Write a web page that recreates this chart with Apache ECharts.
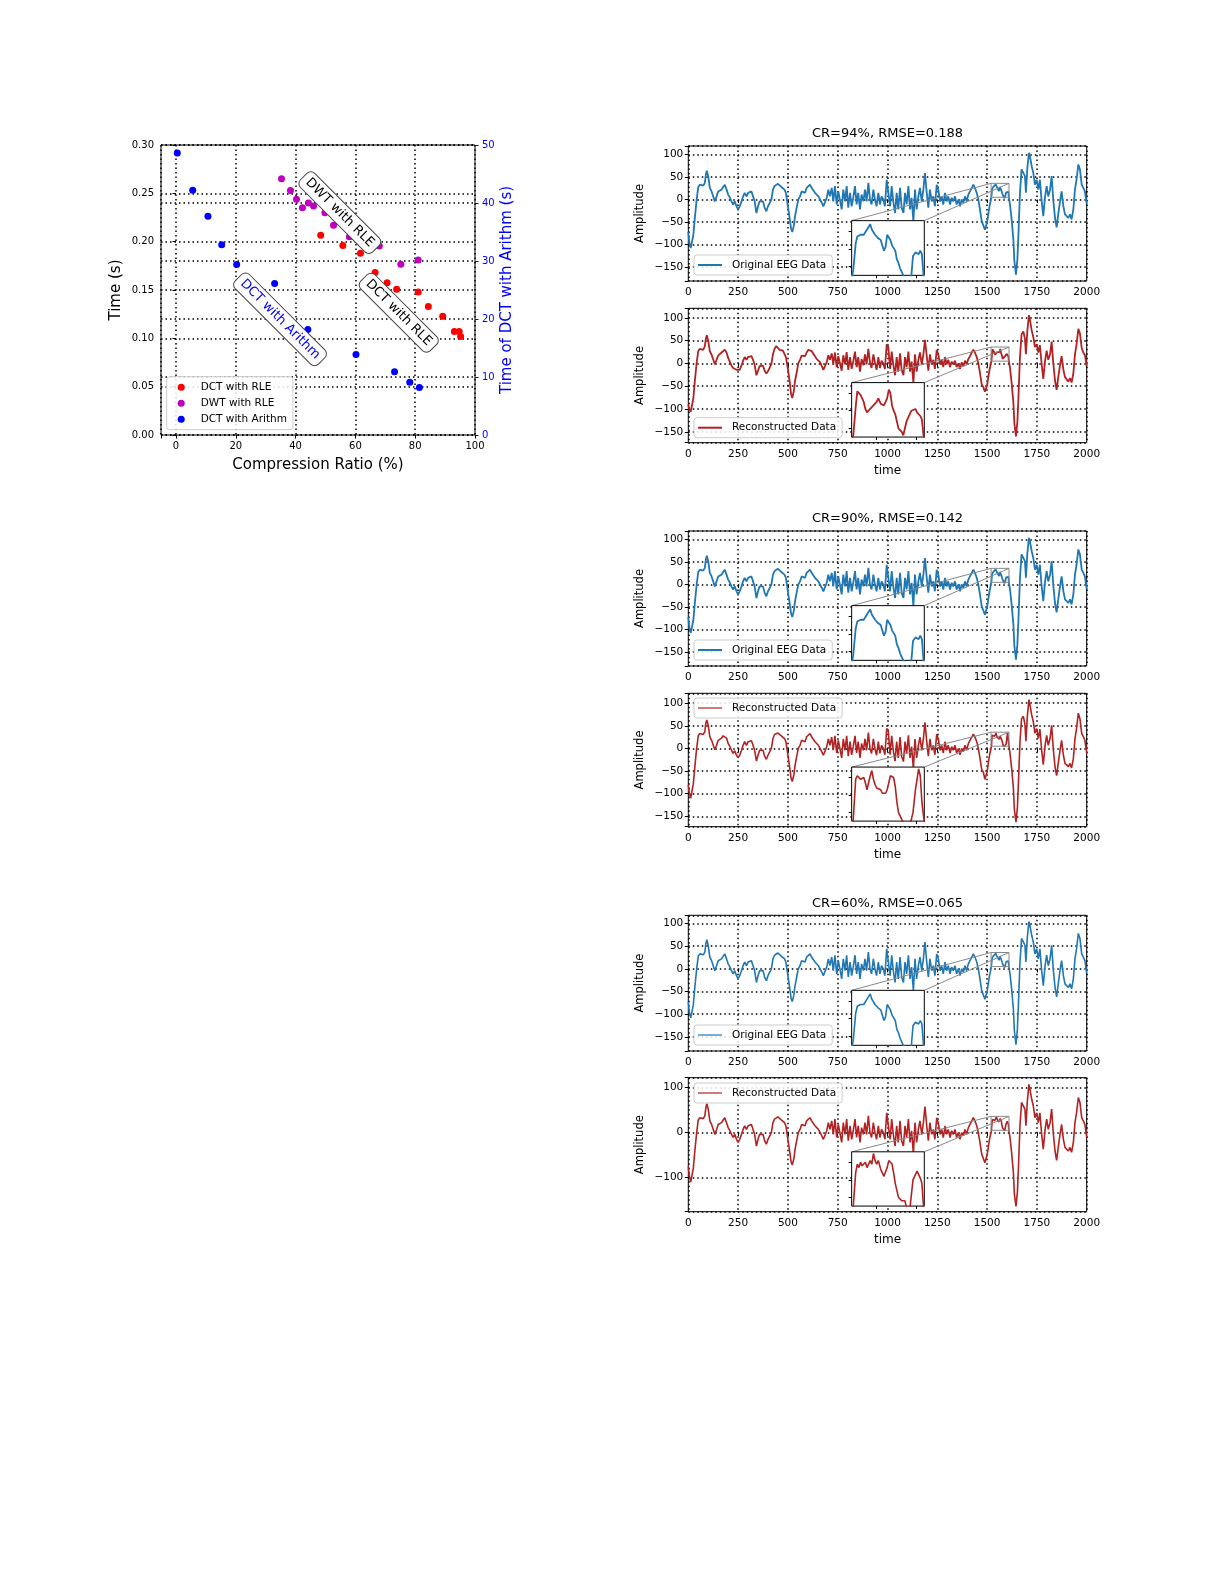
<!DOCTYPE html>
<html><head><meta charset="utf-8">
<script src="https://cdn.jsdelivr.net/npm/echarts@6/dist/echarts.min.js"></script>
<style>html,body{margin:0;padding:0;background:#fff}#c{width:1225px;height:1585px}</style>
</head><body><div id="c"></div>
<script>
// ---------------- scatter data (Compression ratio vs time) ----------------
const scatterNames = ['DCT with RLE', 'DWT with RLE', 'DCT with Arithm'];
const crDctRle = [48.4, 55.8, 61.7, 66.6, 70.6, 73.8, 81.0, 84.4, 89.2, 93.1, 94.7, 95.2];
const tDctRle  = [0.2066, 0.196, 0.188, 0.168, 0.1576, 0.1507, 0.148, 0.133, 0.1228, 0.107, 0.107, 0.102];
const crDwtRle = [35.3, 38.3, 40.3, 42.3, 44.3, 46.0, 49.8, 52.7, 58.0, 68.0, 75.2, 81.0];
const tDwtRle  = [0.265, 0.253, 0.244, 0.235, 0.240, 0.237, 0.230, 0.217, 0.205, 0.1955, 0.1766, 0.181];
const crDctAri = [0.45, 5.6, 10.7, 15.3, 20.3, 33.0, 44.1, 60.2, 73.1, 78.2, 81.4];
const tDctAri  = [48.6, 42.2, 37.7, 32.8, 29.4, 26.1, 18.2, 13.9, 10.9, 9.1, 8.2];
const annoText = ['DWT with RLE', 'DCT with RLE', 'DCT with Arithm'];
const annoX = [54.8, 74.5, 34.8];
const annoY = [0.230, 0.1265, 0.1197];

// ---------------- EEG data ----------------
const panelTitles = ['CR=94%, RMSE=0.188', '', 'CR=90%, RMSE=0.142', '', 'CR=60%, RMSE=0.065', ''];
const tMain = [
0,5,12,18,25,33,42,50,58,67,
75,83,88,93,97,100,108,117,125,133,
142,150,158,167,175,183,192,200,208,217,
225,233,242,250,258,267,275,283,292,300,
308,317,325,333,342,350,358,367,375,383,
392,400,408,417,425,433,442,450,458,467,
475,483,490,500,510,516,522,530,536,544,
552,561,569,577,586,594,603,611,619,628,
636,644,653,661,670,678,686,695,703,711,
720,728,736,745,753,761,770,778,787,795,
803,812,820,828,837,845,853,862,870,879,
887,895,904,912,920,929,937,945,954,962,
970,979,987,996,1004,1013,1021,1029,1038,1046,
1054,1063,1071,1080,1088,1096,1105,1113,1121,1130,
1138,1146,1155,1163,1172,1180,1188,1197,1205,1213,
1222,1230,1238,1247,1255,1264,1272,1280,1289,1297,
1305,1314,1322,1330,1339,1347,1356,1364,1372,1381,
1389,1397,1406,1414,1423,1431,1439,1448,1456,1464,
1473,1481,1489,1495,1500,1506,1512,1517,1615,1623,
1632,1637,1645,1652,1657,1665,1673,1682,1690,1695,
1702,1710,1715,1724,1732,1740,1749,1757,1765,1774,
1782,1791,1799,1807,1816,1824,1832,1841,1849,1858,
1866,1874,1883,1891,1899,1908,1916,1924,1933,1941,
1949,1958,1966,1975,1983,1991,2000];
const eegOriginal = [
-72,-95,-108,-112,-80,-40,0,28,33,30,
31,37,55,64,60,52,26,18,15,-4,
7,18,20,22,28,33,22,11,5,-4,
-11,-4,-15,-22,-15,-4,7,15,7,15,
12,18,7,-4,-30,-15,-4,-7,-4,-18,
-26,-15,-11,0,22,30,33,35,33,28,
30,22,15,-15,-45,-65,-72,-58,-37,-18,
0,7,18,22,15,26,30,33,26,30,
15,11,7,4,-7,-15,-11,4,22,7,
26,-4,30,-11,18,0,-22,22,-4,30,
-18,15,-15,4,30,-11,15,-22,11,-4,
22,-4,37,0,-11,22,0,-15,15,-11,
7,0,-15,44,41,-15,30,-4,-30,15,
-22,26,-18,-30,15,-11,30,-22,4,-48,
22,-22,7,26,-4,22,59,15,-18,22,
-4,7,-15,33,22,-4,7,-11,15,-4,
7,-11,4,-4,7,-11,0,-15,0,-7,
7,-4,11,18,26,33,26,15,0,-22,
-48,-52,-67,-70,-50,-33,-15,-5,-11,-44,
-89,-137,-167,-133,-81,15,67,70,52,15,
70,104,96,74,59,33,44,22,44,-4,
-37,7,30,7,22,52,0,-41,-62,-30,
-4,18,-15,-33,-30,-41,-33,-44,-22,22,
44,78,67,33,26,18,-10];
const recon94 = [
-90,-100,-106,-104,-78,-38,2,27,32,31,
30,38,54,62,60,50,27,19,16,-2,
8,17,21,24,27,30,24,12,4,-5,
-10,-6,-14,-18,-14,-5,6,14,8,14,
11,16,8,-3,-26,-16,-6,-8,-5,-16,
-22,-17,-10,-1,20,32,38,34,30,27,
28,24,14,-12,-44,-68,-76,-60,-38,-20,
0,8,17,21,16,24,30,33,27,29,
16,10,7,3,-6,-14,-10,3,18,8,
22,-2,24,-8,16,1,-16,18,-2,25,
-14,14,-12,4,26,-8,14,-18,10,-4,
20,-2,32,2,-10,20,2,-14,14,-10,
6,0,-12,42,36,-12,26,-2,-26,14,
-18,22,-14,-26,14,-8,26,-18,4,-42,
20,-18,8,24,-2,20,52,16,-16,20,
-2,8,-12,30,20,-2,8,-8,14,-2,
8,-8,4,-2,6,-8,0,-12,2,-6,
6,-2,10,16,24,30,24,14,0,-20,
-46,-52,-62,-64,-48,-30,-14,-4,-10,-42,
-86,-132,-160,-128,-78,14,64,70,54,20,
72,106,96,72,58,36,42,24,40,-2,
-34,6,28,8,20,48,2,-38,-58,-28,
-4,16,-14,-30,-28,-40,-32,-42,-22,20,
42,76,66,34,24,18,-6];
const recon90 = [
-80,-98,-110,-108,-79,-40,1,28,33,31,
31,37,56,63,60,51,26,18,15,-3,
7,18,21,23,28,32,23,11,5,-4,
-11,-5,-15,-20,-15,-4,7,15,7,15,
12,17,7,-4,-28,-15,-4,-7,-4,-17,
-24,-15,-11,0,22,31,34,34,32,28,
29,22,15,-14,-45,-66,-73,-58,-37,-18,
0,7,18,22,15,26,30,33,26,30,
15,11,7,4,-7,-15,-11,4,21,7,
25,-4,28,-10,18,0,-21,21,-4,28,
-17,15,-14,4,28,-10,15,-21,11,-4,
21,-4,35,0,-11,21,0,-15,15,-11,
7,0,-14,44,39,-14,28,-4,-28,15,
-21,25,-17,-29,15,-11,29,-21,4,-45,
21,-21,7,25,-4,21,58,15,-17,21,
-4,7,-14,32,21,-4,7,-10,15,-4,
7,-10,4,-4,7,-10,0,-14,0,-7,
7,-4,11,18,25,32,25,15,0,-21,
-47,-52,-68,-72,-52,-33,-15,-5,-11,-43,
-88,-135,-163,-132,-80,15,66,71,53,16,
71,108,97,74,59,34,44,22,43,-4,
-36,7,29,7,22,51,0,-41,-60,-30,
-4,18,-15,-33,-30,-40,-33,-43,-22,21,
44,78,66,33,26,18,-10];
const recon60 = [
-75,-96,-110,-110,-80,-40,0,28,33,30,
31,37,55,64,60,52,26,18,15,-4,
7,18,20,22,28,33,22,11,5,-4,
-11,-4,-15,-22,-15,-4,7,15,7,15,
12,18,7,-4,-30,-15,-4,-7,-4,-18,
-26,-15,-11,0,22,30,33,35,33,28,
30,22,15,-15,-45,-65,-72,-58,-37,-18,
0,7,18,22,15,26,30,33,26,30,
15,11,7,4,-7,-15,-11,4,22,7,
26,-4,30,-11,18,0,-22,22,-4,30,
-18,15,-15,4,30,-11,15,-22,11,-4,
22,-4,37,0,-11,22,0,-15,15,-11,
7,0,-15,44,41,-15,30,-4,-30,15,
-22,26,-18,-30,15,-11,30,-22,4,-47,
22,-22,7,26,-4,22,58,15,-18,22,
-4,7,-15,33,22,-4,7,-11,15,-4,
7,-11,4,-4,7,-11,0,-15,0,-7,
7,-4,11,18,26,33,26,15,0,-22,
-48,-52,-67,-70,-50,-33,-15,-5,-11,-44,
-89,-137,-164,-133,-81,15,67,70,52,15,
70,107,96,74,59,33,44,22,44,-4,
-37,7,30,7,22,52,0,-41,-62,-30,
-4,18,-15,-33,-30,-41,-33,-44,-22,22,
44,78,67,33,26,18,-10];
// densely read samples inside the zoomed window (from the insets)
const tInset = [1522,1525,1527,1529,1531,1533,1535,1537,1539,1541,1543,1545,1547,1549,1551,1553,1556,1558,1560,1562,1564,1566,1568,1570,1572,1574,1576,1578,1580,1582,1584,1586,1588,1590,1592,1594,1596,1599,1601,1603,1605,1607,1609];
const insOriginal = [8,23,27,28,28,29,28,29,31,32,34,31,30,28,29,26,25,24,19,21,28,28,25,22,21,19,14,12,9,8,5,4,3,2,2,5,16,18,19,17,19,17,5];
const insRecon94 = [6,22,31,30,29,27,25,21,19,20,21,22,23,24,25,27,24,24,23,25,27,32,30,23,20,18,14,10,9,8,6,10,14,16,18,20,21,21,19,18,17,15,6];
const insRecon90 = [6,29,31,30,29,29,30,27,23,27,31,34,29,26,24,24,23,21,20,21,23,27,31,32,30,25,16,10,8,6,4,3,3,3,3,6,10,23,29,35,31,16,8];
const insRecon60 = [5,24,29,27,30,28,29,30,27,28,31,29,35,31,29,31,26,24,22,23,27,31,32,29,24,18,14,10,11,8,7,8,4,3,3,4,20,23,25,23,21,18,5];
const zoomT = [1520, 1610];
const zoomV = [5, 36];
const insetTicksT = [1550, 1600];
const insetTicksV = [10, 20, 30];
const yLimits = [[-181, 119], [-174, 121], [-181, 119], [-173, 122], [-181, 118], [-176, 122]];
const seriesNames = ['Original EEG Data', 'Reconstructed Data', 'Original EEG Data', 'Reconstructed Data', 'Original EEG Data', 'Reconstructed Data'];

// ---------------- layout / style ----------------
const FONT = 'DejaVu Sans';
const BLUE = '#1f77b4', RED = '#b22222';
const mains = [eegOriginal, recon94, eegOriginal, recon90, eegOriginal, recon60];
const insets = [insOriginal, insRecon94, insOriginal, insRecon90, insOriginal, insRecon60];
const panelLayout = [
  {top: 146, bottom: 281, legendTop: 255, lw: 1.8, legLw: 2, color: BLUE, timeName: false, split: 5},
  {top: 308.3, bottom: 442.7, legendTop: 417.7, lw: 1.8, legLw: 2, color: RED, timeName: true, split: 5},
  {top: 531, bottom: 666, legendTop: 640, lw: 1.8, legLw: 2, color: BLUE, timeName: false, split: 5},
  {top: 693.3, bottom: 826.7, legendTop: 698, lw: 1.6, legLw: 1.2, color: RED, timeName: true, split: 5},
  {top: 915.3, bottom: 1051, legendTop: 1025, lw: 1.6, legLw: 1.2, color: BLUE, timeName: false, split: 5},
  {top: 1077.7, bottom: 1211.7, legendTop: 1083, lw: 1.6, legLw: 1.2, color: RED, timeName: true, split: 3}
];
const PL = 688.3, PW = 398.4;

function buildSeries(tA, vA, tB, vB) {
  const pts = [];
  const n = Math.min(tA.length, vA.length);
  for (let i = 0; i < n; i++) pts.push([tA[i], vA[i]]);
  const m = Math.min(tB.length, vB.length);
  for (let i = 0; i < m; i++) pts.push([tB[i], vB[i]]);
  pts.sort((a, b) => a[0] - b[0]);
  return pts;
}
const fmtMinus = v => (v < 0 ? '\u2212' + (-v) : String(v));
const dotted = {color: '#000', type: [1.5, 3], width: 1.5};

const grids = [], xAxes = [], yAxes = [], series = [], legends = [], titles = [];

// ---- scatter chart ----
grids.push({left: 161, top: 145, width: 314, height: 290, show: true, borderColor: '#000', borderWidth: 1, backgroundColor: 'transparent', z: 0});
xAxes.push({type: 'value', gridIndex: 0, min: -5, max: 100,
  name: 'Compression Ratio (%)', nameLocation: 'middle', nameGap: 23,
  nameTextStyle: {fontSize: 15, fontFamily: FONT, color: '#000'},
  axisLine: {show: false}, axisTick: {show: true, length: 3.5, lineStyle: {color: '#000'}},
  axisLabel: {fontSize: 10, fontFamily: FONT, color: '#000', margin: 6,
    formatter: v => (Math.abs(v % 20) < 1e-9 ? String(v) : '')},
  splitLine: {show: true, lineStyle: dotted}});
yAxes.push({type: 'value', gridIndex: 0, min: 0, max: 0.3, interval: 0.05, position: 'left',
  name: 'Time (s)', nameLocation: 'middle', nameGap: 37, nameRotate: 90,
  nameTextStyle: {fontSize: 15, fontFamily: FONT, color: '#000'},
  axisLine: {show: false}, axisTick: {show: true, length: 3.5, lineStyle: {color: '#000'}},
  axisLabel: {fontSize: 10, fontFamily: FONT, color: '#000', margin: 7, formatter: v => v.toFixed(2)},
  splitLine: {show: true, lineStyle: dotted}});
yAxes.push({type: 'value', gridIndex: 0, min: 0, max: 50, interval: 10, position: 'right',
  name: 'Time of DCT with Arithm (s)', nameLocation: 'middle', nameGap: 25, nameRotate: 90,
  nameTextStyle: {fontSize: 15, fontFamily: FONT, color: '#0000ff'},
  axisLine: {show: false}, axisTick: {show: true, length: 3.5, lineStyle: {color: '#0000ff'}},
  axisLabel: {fontSize: 10, fontFamily: FONT, color: '#0000ff', margin: 7},
  splitLine: {show: true, lineStyle: dotted}});
series.push({type: 'scatter', name: scatterNames[0], xAxisIndex: 0, yAxisIndex: 0, symbolSize: 7,
  itemStyle: {color: '#ff0000', opacity: 1}, data: crDctRle.map((x, i) => [x, tDctRle[i]]), z: 3});
series.push({type: 'scatter', name: scatterNames[1], xAxisIndex: 0, yAxisIndex: 0, symbolSize: 7,
  itemStyle: {color: '#bf00bf', opacity: 1}, data: crDwtRle.map((x, i) => [x, tDwtRle[i]]), z: 3});
series.push({type: 'scatter', name: scatterNames[2], xAxisIndex: 0, yAxisIndex: 1, symbolSize: 7,
  itemStyle: {color: '#0000ff', opacity: 1}, data: crDctAri.map((x, i) => [x, tDctAri[i]]), z: 3});
legends.push({data: scatterNames, orient: 'vertical', left: 166.7, top: 376.7,
  backgroundColor: 'rgba(255,255,255,0.85)', borderColor: '#cccccc', borderWidth: 1, borderRadius: 3,
  padding: [4, 6, 4, 11], itemGap: 3, itemWidth: 7, itemHeight: 7, icon: 'circle', z: 20,
  itemStyle: {opacity: 1},
  textStyle: {fontSize: 10.5, fontFamily: FONT, color: '#000', lineHeight: 13, padding: [0, 0, 0, 11]}});

// ---- EEG panels ----
panelLayout.forEach((p, i) => {
  const h = p.bottom - p.top;
  const gMain = grids.length;
  grids.push({left: PL, top: p.top, width: PW, height: h, show: true, borderColor: '#000', borderWidth: 1, backgroundColor: 'transparent', z: 0});
  const gIn = grids.length;
  grids.push({left: PL + 0.41 * PW, top: p.top + 0.553 * h, width: 0.1824 * PW, height: 0.405 * h,
    show: true, borderColor: '#000', borderWidth: 1, backgroundColor: '#fff', z: 10});
  const xi = xAxes.length, yi = yAxes.length;
  const lim = yLimits[i];
  const step = p.split === 3 ? 100 : 50;
  xAxes.push({type: 'value', gridIndex: gMain, min: 0, max: 2000, interval: 250,
    name: p.timeName ? 'time' : '', nameLocation: 'middle', nameGap: 22,
    nameTextStyle: {fontSize: 12, fontFamily: FONT, color: '#000'},
    axisLine: {show: false}, axisTick: {show: true, length: 3.5, lineStyle: {color: '#000'}},
    axisLabel: {fontSize: 10.5, fontFamily: FONT, color: '#000', margin: 6, formatter: v => String(v)},
    splitLine: {show: true, lineStyle: dotted}});
  yAxes.push({type: 'value', gridIndex: gMain, min: lim[0], max: lim[1], splitNumber: p.split,
    name: 'Amplitude', nameLocation: 'middle', nameGap: 42, nameRotate: 90,
    nameTextStyle: {fontSize: 11.5, fontFamily: FONT, color: '#000'},
    axisLine: {show: false}, axisTick: {show: true, length: 3.5, lineStyle: {color: '#000'}},
    axisLabel: {fontSize: 10.5, fontFamily: FONT, color: '#000', margin: 5,
      formatter: v => (Math.abs(v % step) < 1e-9 ? fmtMinus(v) : '')},
    splitLine: {show: true, lineStyle: dotted}});
  xAxes.push({type: 'value', gridIndex: gIn, min: zoomT[0], max: zoomT[1], z: 11,
    axisLine: {show: false}, axisLabel: {show: false}, splitLine: {show: false},
    axisTick: {show: true, length: 3, customValues: insetTicksT, lineStyle: {color: '#000'}}});
  yAxes.push({type: 'value', gridIndex: gIn, min: zoomV[0], max: zoomV[1], z: 11,
    axisLine: {show: false}, axisLabel: {show: false}, splitLine: {show: false},
    axisTick: {show: true, length: 3, customValues: insetTicksV, lineStyle: {color: '#000'}}});
  const data = buildSeries(tMain, mains[i], tInset, insets[i]);
  series.push({type: 'line', name: seriesNames[i], xAxisIndex: xi, yAxisIndex: yi, data: data,
    symbol: 'none', clip: true, lineStyle: {color: p.color, width: p.lw}, itemStyle: {color: p.color}, z: 2, animation: false});
  series.push({type: 'line', name: seriesNames[i], xAxisIndex: xi + 1, yAxisIndex: yi + 1, data: data,
    symbol: 'none', clip: true, lineStyle: {color: p.color, width: p.lw}, itemStyle: {color: p.color}, z: 12, animation: false});
  legends.push({data: [{name: seriesNames[i], icon: 'rect'}], left: 694, top: p.legendTop, orient: 'horizontal',
    backgroundColor: 'rgba(255,255,255,0.85)', borderColor: '#cccccc', borderWidth: 1, borderRadius: 3,
    padding: [4, 6, 4, 4], itemWidth: 24, itemHeight: p.legLw, z: 20,
    itemStyle: {color: p.color},
    textStyle: {fontSize: 10.5, fontFamily: FONT, color: '#000', lineHeight: 12, padding: [0, 0, 0, 5]}});
  if (panelTitles[i]) {
    titles.push({text: panelTitles[i], left: PL + PW / 2, top: p.top - 18.5, textAlign: 'center', padding: 0,
      textStyle: {fontSize: 13, fontWeight: 'normal', fontFamily: FONT, color: '#000'}});
  }
});

const chart = echarts.init(document.getElementById('c'), null, {renderer: 'canvas', width: 1225, height: 1585});
chart.setOption({
  animation: false,
  backgroundColor: '#fff',
  title: titles,
  grid: grids,
  xAxis: xAxes,
  yAxis: yAxes,
  legend: legends,
  series: series
});

// ---- overlays placed through the axes' own scales ----
const elements = [];
panelLayout.forEach((p, i) => {
  const xm = 1 + 2 * i, ym = 2 + 2 * i;
  const mTL = chart.convertToPixel({xAxisIndex: xm, yAxisIndex: ym}, [zoomT[0], zoomV[1]]);
  const mBR = chart.convertToPixel({xAxisIndex: xm, yAxisIndex: ym}, [zoomT[1], zoomV[0]]);
  const iTL = chart.convertToPixel({xAxisIndex: xm + 1, yAxisIndex: ym + 1}, [zoomT[0], zoomV[1]]);
  const iTR = chart.convertToPixel({xAxisIndex: xm + 1, yAxisIndex: ym + 1}, [zoomT[1], zoomV[1]]);
  const st = {stroke: '#888888', lineWidth: 1, fill: null};
  elements.push({type: 'rect', shape: {x: mTL[0], y: mTL[1], width: mBR[0] - mTL[0], height: mBR[1] - mTL[1]}, style: st, z: 5, silent: true});
  elements.push({type: 'line', shape: {x1: iTL[0], y1: iTL[1], x2: mTL[0], y2: mTL[1]}, style: st, z: 5, silent: true});
  elements.push({type: 'line', shape: {x1: iTR[0], y1: iTR[1], x2: mBR[0], y2: mTL[1]}, style: st, z: 5, silent: true});
});
annoText.forEach((txt, k) => {
  const pt = chart.convertToPixel({xAxisIndex: 0, yAxisIndex: 0}, [annoX[k], annoY[k]]);
  elements.push({type: 'text', x: pt[0], y: pt[1], rotation: -Math.PI / 4, z: 15, silent: true,
    style: {text: txt, fill: k === 2 ? '#0000ff' : '#000', font: '13px "DejaVu Sans"', align: 'center', verticalAlign: 'middle',
      backgroundColor: '#fff', borderColor: '#444', borderWidth: 1, borderRadius: 5, padding: [3, 5]}});
});
chart.setOption({graphic: {elements: elements}});
</script>
</body></html>
